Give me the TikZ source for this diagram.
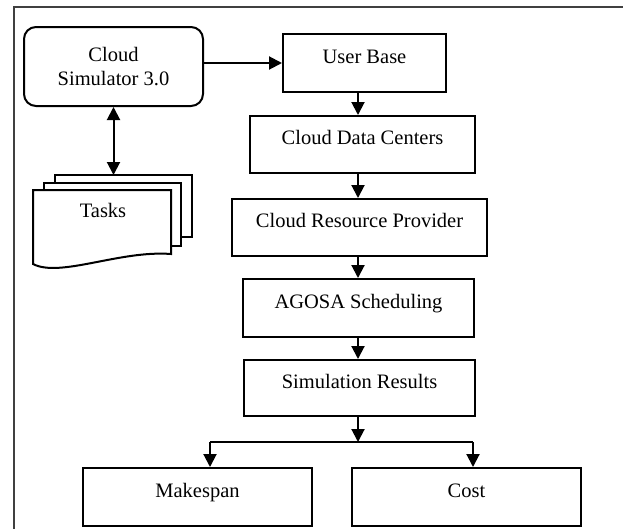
\documentclass[tikz,border=0pt]{standalone}
\usepackage{fontspec}
\setmainfont{Liberation Serif}
\usetikzlibrary{arrows.meta}
\begin{document}
\begin{tikzpicture}[x=1pt,y=-1pt,
  txt/.style={font=\fontsize{20.5}{24}\selectfont},
  box/.style={txt, draw, line width=2pt, rectangle, inner sep=0pt, text height=10pt, text depth=10pt},
  page/.style={draw, line width=2pt, fill=white},
  arr/.style={line width=2pt, -{Triangle[length=13pt,width=13pt]}},
  darr/.style={line width=2pt, {Triangle[length=13pt,width=13pt]}-{Triangle[length=13pt,width=13pt]}},
  frame/.style={line width=2pt, black!75}
]
\clip (0,0) rectangle (623,528);
\draw[frame] (14,540) -- (14,7) -- (640,7);

% Cloud simulator
\node[txt, draw, line width=2pt, rounded corners=12pt, inner sep=0pt, align=center,
      minimum width=179pt, minimum height=79pt] (sim) at (113.5,66.5) {Cloud\\Simulator 3.0};

% Tasks (stacked documents)
\draw[page] (55,175) rectangle (192,237);
\draw[page] (44,183) rectangle (181,246);
\draw[page] (33,190) -- (171,190) -- (171,254)
   .. controls (120,250) and (60,278) .. (33,264) -- cycle;
\node[txt] (tasks) at (103,210) {Tasks};
\coordinate (taskstop) at (113.5,175);

% main column
\node[box, minimum width=163pt, minimum height=58pt] (ub)   at (364.5,63)  {User Base};
\node[box, minimum width=225pt, minimum height=57pt] (cdc)  at (362.5,144.5) {Cloud Data Centers};
\node[box, minimum width=255pt, minimum height=57pt] (crp)  at (359.5,227.5) {Cloud Resource Provider};
\node[box, minimum width=231pt, minimum height=58pt] (ag)   at (358.5,308) {AGOSA Scheduling};
\node[box, minimum width=231pt, minimum height=56pt] (sr)   at (359.5,388) {Simulation Results};
\node[box, minimum width=229pt, minimum height=58pt] (mk)   at (197.5,497) {Makespan};
\node[box, minimum width=229pt, minimum height=58pt] (cost) at (466.5,497) {Cost};

\coordinate (col) at (358,0);
\coordinate (bm) at (358,442);
\coordinate (bl) at (210,442);
\coordinate (br) at (473,442);

\draw[arr] (ub.west -| sim.east) -- (ub.west);
\draw[darr] (sim.south) -- (taskstop);
\draw[arr] (ub.south -| col) -- (cdc.north -| col);
\draw[arr] (cdc.south -| col) -- (crp.north -| col);
\draw[arr] (crp.south -| col) -- (ag.north -| col);
\draw[arr] (ag.south -| col) -- (sr.north -| col);
\draw[arr] (sr.south -| col) -- (bm);
\draw[line width=2pt] (bl) -- (br);
\draw[arr] (bl) -- (mk.north -| bl);
\draw[arr] (br) -- (cost.north -| br);
\end{tikzpicture}
\end{document}
